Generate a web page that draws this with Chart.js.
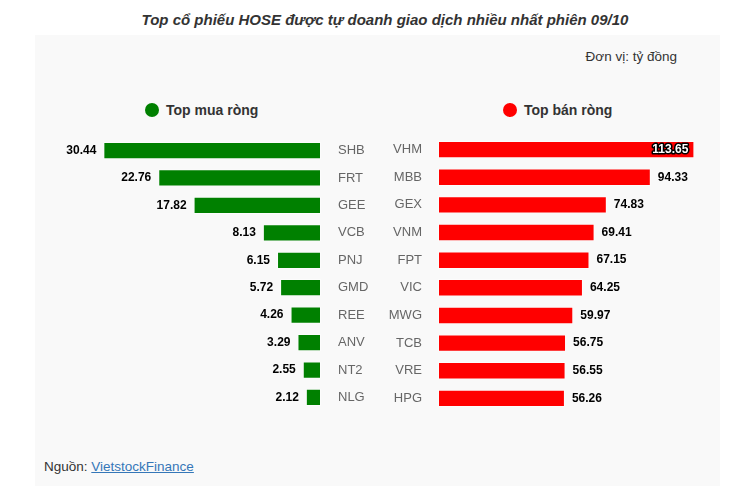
<!DOCTYPE html>
<html>
<head>
<meta charset="utf-8">
<script src="https://cdn.jsdelivr.net/npm/chart.js@4.4.1/dist/chart.umd.min.js"></script>
<style>
  body { margin: 0; background: #fff; font-family: "Liberation Sans", Arial, sans-serif; }
  #wrap { position: relative; width: 736px; height: 501px; overflow: hidden; }
  .panel { position: absolute; left: 35px; top: 35px; width: 685px; height: 451px; background: #f9f9f9; }
  .title { position: absolute; left: 0; width: 770px; top: 11px; text-align: center; font-weight: bold; font-style: italic; font-size: 15px; color: #333; }
  .unit { position: absolute; right: 59px; top: 49px; font-size: 13.5px; color: #333; }
  .legend { position: absolute; top: 102px; font-weight: bold; font-size: 14px; color: #333; }
  .legend span { display: inline-block; width: 14px; height: 14px; border-radius: 50%; vertical-align: -2px; margin-right: 7px; }
  .source { position: absolute; left: 44px; top: 459px; font-size: 13.5px; color: #333; }
  .source a { color: #3577b8; }
  /* chart area của Chart.js lệch ~25px trên/dưới nên hộp được nới ra */
  .box { position: absolute; top: 112px; height: 324px; }
</style>
</head>
<body>
<div id="wrap">
  <div class="panel"></div>
  <div class="title">Top cổ phiếu HOSE được tự doanh giao dịch nhiều nhất phiên 09/10</div>
  <div class="unit">Đơn vị: tỷ đồng</div>
  <div class="legend" style="left:145px"><span style="background:#008000"></span>Top mua ròng</div>
  <div class="legend" style="left:503px"><span style="background:#ff0000"></span>Top bán ròng</div>
  <div class="box" style="left:35px;width:340px"><canvas id="buyChart"></canvas></div>
  <div class="box" style="left:370px;width:350px"><canvas id="sellChart"></canvas></div>
  <div class="source">Nguồn: <a href="#">VietstockFinance</a></div>
</div>
<script>
const buyCodes = ['SHB', 'FRT', 'GEE', 'VCB', 'PNJ', 'GMD', 'REE', 'ANV', 'NT2', 'NLG'];
const buyValues = [30.44, 22.76, 17.82, 8.13, 6.15, 5.72, 4.26, 3.29, 2.55, 2.12];
const sellCodes = ['VHM', 'MBB', 'GEX', 'VNM', 'FPT', 'VIC', 'MWG', 'TCB', 'VRE', 'HPG'];
const sellValues = [113.65, 94.33, 74.83, 69.41, 67.15, 64.25, 59.97, 56.75, 56.55, 56.26];

Chart.defaults.font.family = '"Liberation Sans", Arial, sans-serif';

// nhãn giá trị cạnh thanh
const valueLabels = {
  id: 'valueLabels',
  afterDatasetsDraw(chart, args, opts) {
    const ctx = chart.ctx;
    const meta = chart.getDatasetMeta(0);
    ctx.save();
    ctx.font = 'bold 12px "Liberation Sans", Arial, sans-serif';
    ctx.textBaseline = 'middle';
    meta.data.forEach((bar, i) => {
      const txt = chart.data.datasets[0].data[i].toFixed(2);
      const w = ctx.measureText(txt).width;
      if (opts.side === 'left') {
        ctx.textAlign = 'right';
        ctx.fillStyle = '#000';
        ctx.fillText(txt, bar.x - 7, bar.y);
      } else if (bar.x + 7 + w > chart.width) {
        // không đủ chỗ thì ghi vào trong thanh
        ctx.textAlign = 'right';
        ctx.lineWidth = 3;
        ctx.lineJoin = 'round';
        ctx.strokeStyle = '#000';
        ctx.strokeText(txt, bar.x - 6, bar.y);
        ctx.fillStyle = '#fff';
        ctx.fillText(txt, bar.x - 6, bar.y);
      } else {
        ctx.textAlign = 'left';
        ctx.fillStyle = '#000';
        ctx.fillText(txt, bar.x + 7, bar.y);
      }
    });
    ctx.restore();
  }
};

function makeChart(id, codes, values, color, side) {
  const left = side === 'left';
  return new Chart(document.getElementById(id), {
    type: 'bar',
    plugins: [valueLabels],
    data: {
      labels: codes,
      datasets: [{
        data: values,
        backgroundColor: color,
        borderColor: 'rgba(255,255,255,0.45)',
        borderWidth: 1,
        borderSkipped: false,
        barPercentage: 0.63,
        categoryPercentage: 1
      }]
    },
    options: {
      indexAxis: 'y',
      responsive: true,
      maintainAspectRatio: false,
      animation: false,
      layout: { padding: 0 },
      scales: {
        x: { display: false, reverse: left, min: 0, max: left ? 40 : 125 },
        y: {
          position: left ? 'right' : 'left',
          grid: { display: false, drawTicks: false },
          border: { display: false },
          ticks: { color: '#666', font: { size: 13 }, padding: left ? 17 : 16 },
          afterFit: (scale) => { scale.width = left ? 54 : 68; }
        }
      },
      plugins: {
        legend: { display: false },
        tooltip: { enabled: false },
        valueLabels: { side: side }
      }
    }
  });
}

makeChart('buyChart', buyCodes, buyValues, '#008000', 'left');
makeChart('sellChart', sellCodes, sellValues, '#ff0000', 'right');
</script>
</body>
</html>
